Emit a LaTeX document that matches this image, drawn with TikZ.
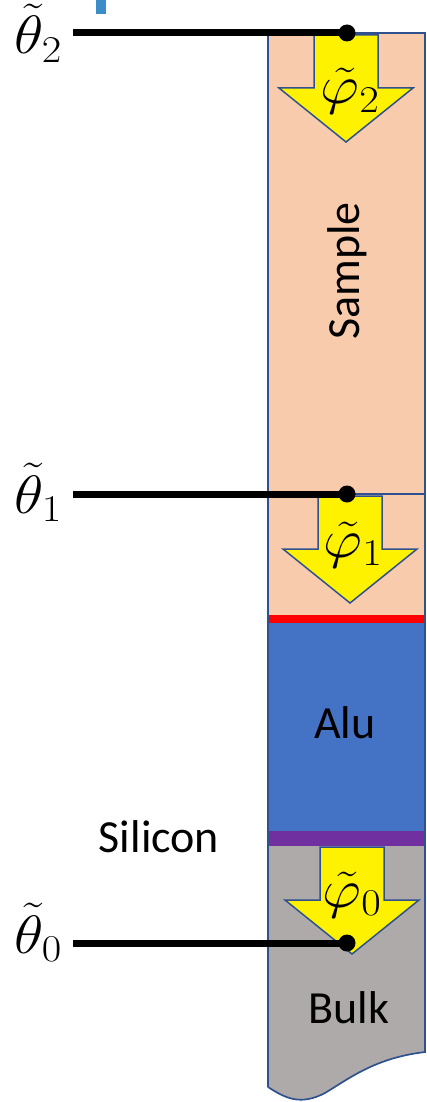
\RequirePackage{fix-cm}
\documentclass[tikz,border=0pt]{standalone}
\usepackage[no-math]{fontspec}
\setmainfont{Carlito}
\usetikzlibrary{positioning}
\definecolor{sampleC}{HTML}{F8CBAD}
\definecolor{aluC}{HTML}{4472C4}
\definecolor{bulkC}{HTML}{AEAAAA}
\definecolor{purpC}{HTML}{7030A0}
\definecolor{edgeC}{HTML}{2F528F}
\definecolor{tickC}{HTML}{3A8DC8}

\begin{document}
\begin{tikzpicture}[
    x=1pt, y=-1pt,
    edge/.style={draw=edgeC, line width=1.7pt},
    fluxarrow/.style={draw=edgeC, fill=yellow, line width=1.5pt, line join=miter},
    flux/.pic={\draw[fluxarrow] (-32,0) -- (32,0) -- (32,53) -- (67,53) -- (0,107) -- (-67,53) -- (-32,53) -- cycle;},
    lead/.style={line width=7pt},
    dot/.style={circle, fill=black, inner sep=0pt, minimum size=17pt},
    lbl/.style={font=\fontsize{46}{50}\selectfont, inner sep=0pt},
    mlbl/.style={font=\fontsize{54}{58}\selectfont, inner sep=0pt, xscale=1.12}
]
    \useasboundingbox (0,0) rectangle (426,1102);
    \fill[tickC] (96,0) rectangle (106,14);

    % Layers of the stack
    \fill[sampleC] (268,33) rectangle (425,618);
    \fill[aluC] (268,623) rectangle (425,831);
    \fill[purpC] (268,831) rectangle (425,846);
    \fill[bulkC] (268,846) -- (425,846) -- (425,1052) .. controls (375,1058) and (350,1078) .. (325,1093) .. controls (300,1106) and (285,1098) .. (268,1087) -- cycle;
    \fill[red] (268,615) rectangle (425,623);
    \draw[edge] (268,494) -- (425,494);
    \draw[edge] (268,1087) -- (268,33) -- (425,33) -- (425,1052) .. controls (375,1058) and (350,1078) .. (325,1093) .. controls (300,1106) and (285,1098) .. (268,1087);

    % Fluxes
    \pic at (346,35) {flux};
    \pic at (350,496) {flux};
    \pic at (352,847) {flux};
    \node[mlbl, anchor=base] (p2) at (350,104) {$\tilde\varphi_2$};
    \node[mlbl, anchor=base] (p1) at (353,557) {$\tilde\varphi_1$};
    \node[mlbl, anchor=base] (p0) at (352,907) {$\tilde\varphi_0$};

    % Temperatures
    \node[dot] (d2) at (347,33) {};
    \node[dot] (d1) at (347,494) {};
    \node[dot] (d0) at (347,943) {};
    \node[mlbl, anchor=base east] (t2) at (62,54) {$\tilde\theta_2$};
    \node[mlbl, anchor=base east] (t1) at (62,513) {$\tilde\theta_1$};
    \node[mlbl, anchor=base east] (t0) at (62,953) {$\tilde\theta_0$};
    \draw[lead] (t2.east |- d2) ++(11,0) -- (d2.center);
    \draw[lead] (t1.east |- d1) ++(11,0) -- (d1.center);
    \draw[lead] (t0.east |- d0) ++(11,0) -- (d0.center);

    % Names
    \node[lbl, rotate=90] (sample) at (347,271) {Sample};
    \node[lbl] (alu) at (345,723) {Alu};
    \node[lbl] (bulk) at (349,1008) {Bulk};
    \node[lbl] (si) at (159,837) {Silicon};
\end{tikzpicture}
\end{document}
